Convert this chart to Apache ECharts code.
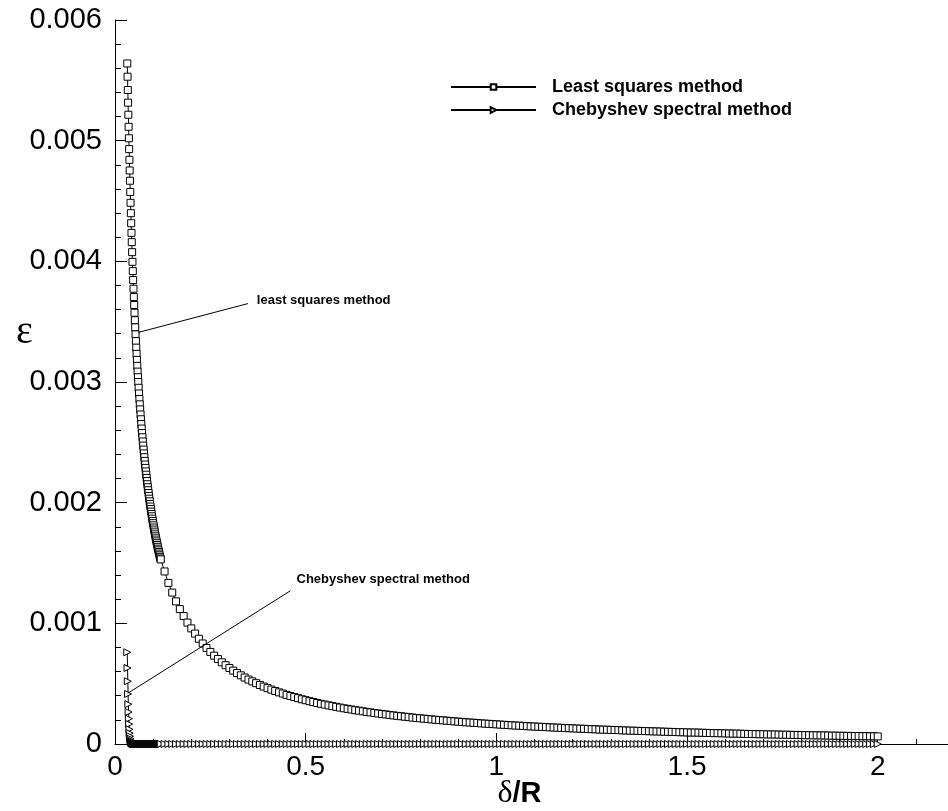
<!DOCTYPE html>
<html><head><meta charset="utf-8">
<script src="https://cdn.jsdelivr.net/npm/echarts@6/dist/echarts.min.js"></script>
<style>html,body{margin:0;padding:0;background:#fff}#c{width:948px;height:811px}</style>
</head><body><div id="c"></div>
<script>
// δ/R grid shared by both series
const deltaR = [
0.0322,0.0329,0.0336,0.0343,0.0350,0.0357,0.0364,0.0371,0.0378,0.0385,0.0392,0.0400,
0.0408,0.0416,0.0424,0.0432,0.0440,0.0449,0.0458,0.0467,0.0476,0.0485,0.0494,0.0503,0.0512,0.0521,0.0530,0.0539,0.0548,0.0557,0.0566,0.0575,0.0584,0.0593,0.0602,
0.061,0.062,0.063,0.064,0.065,0.066,0.067,0.068,0.069,0.070,
0.071,0.072,0.073,0.074,0.075,0.076,0.077,0.078,0.079,0.080,
0.081,0.082,0.083,0.084,0.085,0.086,0.087,0.088,0.089,0.090,
0.091,0.092,0.093,0.094,0.095,0.096,0.097,0.098,0.099,0.100,
0.101,0.102,0.103,0.104,0.105,0.106,0.107,0.108,0.109,0.110,
0.111,0.112,0.113,0.114,0.115,0.116,0.117,0.118,0.119,
0.12,0.13,0.14,0.15,0.16,0.17,0.18,0.19,
0.20,0.21,0.22,0.23,0.24,0.25,0.26,0.27,0.28,0.29,
0.30,0.31,0.32,0.33,0.34,0.35,0.36,0.37,0.38,0.39,
0.40,0.41,0.42,0.43,0.44,0.45,0.46,0.47,0.48,0.49,
0.50,0.51,0.52,0.53,0.54,0.55,0.56,0.57,0.58,0.59,
0.60,0.61,0.62,0.63,0.64,0.65,0.66,0.67,0.68,0.69,
0.70,0.71,0.72,0.73,0.74,0.75,0.76,0.77,0.78,0.79,
0.80,0.81,0.82,0.83,0.84,0.85,0.86,0.87,0.88,0.89,
0.90,0.91,0.92,0.93,0.94,0.95,0.96,0.97,0.98,0.99,
1.00,1.01,1.02,1.03,1.04,1.05,1.06,1.07,1.08,1.09,
1.10,1.11,1.12,1.13,1.14,1.15,1.16,1.17,1.18,1.19,
1.20,1.21,1.22,1.23,1.24,1.25,1.26,1.27,1.28,1.29,
1.30,1.31,1.32,1.33,1.34,1.35,1.36,1.37,1.38,1.39,
1.40,1.41,1.42,1.43,1.44,1.45,1.46,1.47,1.48,1.49,
1.50,1.51,1.52,1.53,1.54,1.55,1.56,1.57,1.58,1.59,
1.60,1.61,1.62,1.63,1.64,1.65,1.66,1.67,1.68,1.69,
1.70,1.71,1.72,1.73,1.74,1.75,1.76,1.77,1.78,1.79,
1.80,1.81,1.82,1.83,1.84,1.85,1.86,1.87,1.88,1.89,
1.90,1.91,1.92,1.93,1.94,1.95,1.96,1.97,1.98,1.99,
2.00
];

// ε, least squares method
const leastSquares = [
5640e-6,5530e-6,5420e-6,5315e-6,5215e-6,5115e-6,5020e-6,4930e-6,4841e-6,4753e-6,4668e-6,4575e-6,
4485e-6,4399e-6,4316e-6,4236e-6,4159e-6,4076e-6,3996e-6,3919e-6,3845e-6,3773e-6,3704e-6,3638e-6,3574e-6,3512e-6,3453e-6,3395e-6,3339e-6,3285e-6,3233e-6,3183e-6,3134e-6,3086e-6,3040e-6,
3000e-6,2952e-6,2905e-6,2859e-6,2815e-6,2773e-6,2731e-6,2691e-6,2652e-6,2614e-6,
2577e-6,2542e-6,2507e-6,2473e-6,2440e-6,2408e-6,2377e-6,2346e-6,2316e-6,2288e-6,
2259e-6,2232e-6,2205e-6,2179e-6,2153e-6,2128e-6,2103e-6,2080e-6,2056e-6,2033e-6,
2011e-6,1989e-6,1968e-6,1947e-6,1926e-6,1906e-6,1887e-6,1867e-6,1848e-6,1830e-6,
1812e-6,1794e-6,1777e-6,1760e-6,1743e-6,1726e-6,1710e-6,1694e-6,1679e-6,1664e-6,
1649e-6,1634e-6,1619e-6,1605e-6,1591e-6,1578e-6,1564e-6,1551e-6,1538e-6,
1530e-6,1430e-6,1335e-6,1255e-6,1182e-6,1118e-6,1060e-6,1006e-6,
958e-6,915e-6,872e-6,833e-6,796e-6,763e-6,732e-6,704e-6,677e-6,653e-6,
630e-6,608e-6,588e-6,569e-6,551e-6,534e-6,519e-6,504e-6,489e-6,476e-6,
463e-6,451e-6,439e-6,428e-6,418e-6,407e-6,398e-6,389e-6,380e-6,371e-6,
363e-6,355e-6,348e-6,340e-6,333e-6,327e-6,320e-6,314e-6,308e-6,302e-6,
296e-6,291e-6,286e-6,280e-6,276e-6,271e-6,266e-6,262e-6,257e-6,253e-6,
249e-6,245e-6,241e-6,237e-6,233e-6,230e-6,226e-6,223e-6,219e-6,216e-6,
213e-6,210e-6,207e-6,204e-6,201e-6,198e-6,196e-6,193e-6,190e-6,188e-6,
185e-6,183e-6,180e-6,178e-6,176e-6,174e-6,171e-6,169e-6,167e-6,165e-6,
163e-6,161e-6,159e-6,157e-6,155e-6,153e-6,152e-6,150e-6,148e-6,146e-6,
145e-6,143e-6,142e-6,140e-6,138e-6,137e-6,135e-6,134e-6,132e-6,131e-6,
130e-6,128e-6,127e-6,126e-6,124e-6,123e-6,122e-6,120e-6,119e-6,118e-6,
117e-6,116e-6,115e-6,113e-6,112e-6,111e-6,110e-6,109e-6,108e-6,107e-6,
106e-6,105e-6,104e-6,103e-6,102e-6,101e-6,100e-6,99e-6,98e-6,97e-6,
96e-6,95e-6,95e-6,94e-6,93e-6,92e-6,91e-6,90e-6,90e-6,89e-6,
88e-6,87e-6,86e-6,86e-6,85e-6,84e-6,83e-6,83e-6,82e-6,81e-6,
81e-6,80e-6,79e-6,79e-6,78e-6,77e-6,77e-6,76e-6,75e-6,75e-6,
74e-6,73e-6,73e-6,72e-6,72e-6,71e-6,71e-6,70e-6,69e-6,69e-6,
68e-6,68e-6,67e-6,67e-6,66e-6,66e-6,65e-6,65e-6,64e-6,64e-6,
63e-6
];

// ε, Chebyshev spectral method
const chebyshev = [
760e-6,630e-6,520e-6,415e-6,330e-6,265e-6,210e-6,165e-6,122e-6,90e-6,65e-6,45e-6,
32e-6,22e-6,15e-6,10e-6,7e-6,5e-6,3e-6,2e-6,1e-6,1e-6,0,0,0,0,0,0,0,0,0,0,0,0,0,
0,0,0,0,0,0,0,0,0,0,
0,0,0,0,0,0,0,0,0,0,
0,0,0,0,0,0,0,0,0,0,
0,0,0,0,0,0,0,0,0,0,
0,0,0,0,0,0,0,0,0,0,
0,0,0,0,0,0,0,0,0,
0,0,0,0,0,0,0,0,
0,0,0,0,0,0,0,0,0,0,
0,0,0,0,0,0,0,0,0,0,
0,0,0,0,0,0,0,0,0,0,
0,0,0,0,0,0,0,0,0,0,
0,0,0,0,0,0,0,0,0,0,
0,0,0,0,0,0,0,0,0,0,
0,0,0,0,0,0,0,0,0,0,
0,0,0,0,0,0,0,0,0,0,
0,0,0,0,0,0,0,0,0,0,
0,0,0,0,0,0,0,0,0,0,
0,0,0,0,0,0,0,0,0,0,
0,0,0,0,0,0,0,0,0,0,
0,0,0,0,0,0,0,0,0,0,
0,0,0,0,0,0,0,0,0,0,
0,0,0,0,0,0,0,0,0,0,
0,0,0,0,0,0,0,0,0,0,
0,0,0,0,0,0,0,0,0,0,
0,0,0,0,0,0,0,0,0,0,
0
];

const seriesNames = ['Least squares method', 'Chebyshev spectral method'];
const yLabel = '\u03b5';

// annotations: text, curve point, line end, text anchor (data units)
const notes = [
  {text: 'least squares method', from: [0.0603, 0.00341], to: [0.3486, 0.00365], at: [0.372, 0.00368]},
  {text: 'Chebyshev spectral method', from: [0.0333, 0.00042], to: [0.46, 0.00127], at: [0.476, 0.00136]}
];

const FONT = '"Liberation Sans", Arial, sans-serif';
const chart = echarts.init(document.getElementById('c'), null, {renderer: 'canvas'});
const pairs = arr => deltaR.map((x, i) => [x, arr[i]]);

chart.setOption({
  animation: false,
  backgroundColor: '#fff',
  grid: {left: 115, top: 20, width: 839, height: 724, containLabel: false, outerBoundsMode: 'none'},
  legend: {
    orient: 'vertical', left: 445, top: 73, itemWidth: 85, itemHeight: 7, itemGap: 5,
    textStyle: {fontFamily: FONT, fontWeight: 'bold', fontSize: 18, color: '#000', padding: [0, 0, 0, 11]},
    data: seriesNames
  },
  xAxis: {
    type: 'value', min: 0, max: 2.2, interval: 0.5,
    axisLine: {lineStyle: {color: '#000', width: 1}},
    axisTick: {inside: true, length: 11, lineStyle: {color: '#000'}},
    minorTick: {show: true, splitNumber: 5, length: 5, lineStyle: {color: '#000'}},
    splitLine: {show: false},
    axisLabel: {fontFamily: FONT, fontSize: 28, color: '#000', margin: 9, showMaxLabel: false},
    name: '{d|\u03b4}{r|/R}', nameLocation: 'middle', nameGap: 35, nameMoveOverlap: false,
    nameTextStyle: {padding: [0, 30, 0, 0], rich: {
      d: {fontFamily: '"Liberation Serif", serif', fontSize: 32, color: '#000', lineHeight: 30},
      r: {fontFamily: FONT, fontSize: 29, fontWeight: 'bold', color: '#000', lineHeight: 30}
    }}
  },
  yAxis: {
    type: 'value', min: 0, max: 0.006, interval: 0.001,
    axisLine: {lineStyle: {color: '#000', width: 1}},
    axisTick: {inside: true, length: 12, lineStyle: {color: '#000'}},
    minorTick: {show: true, splitNumber: 5, length: 6, lineStyle: {color: '#000'}},
    splitLine: {show: false},
    axisLabel: {fontFamily: FONT, fontSize: 29, color: '#000', margin: 13}
  },
  series: [
    {
      name: seriesNames[0], type: 'line', data: pairs(leastSquares),
      symbol: 'rect', symbolSize: 7, showAllSymbol: true, z: 3,
      itemStyle: {color: '#fff', borderColor: '#000', borderWidth: 1},
      lineStyle: {color: '#000', width: 1}
    },
    {
      name: seriesNames[1], type: 'line', data: pairs(chebyshev),
      symbol: 'path://M0,0L10,5L0,10Z', symbolSize: 7, symbolKeepAspect: true, showAllSymbol: true, z: 2,
      itemStyle: {color: '#fff', borderColor: '#000', borderWidth: 1},
      lineStyle: {color: '#000', width: 1}
    }
  ]
});

const g = [];
notes.forEach(n => {
  const a = chart.convertToPixel({gridIndex: 0}, n.from);
  const b = chart.convertToPixel({gridIndex: 0}, n.to);
  const t = chart.convertToPixel({gridIndex: 0}, n.at);
  g.push({type: 'line', shape: {x1: a[0], y1: a[1], x2: b[0], y2: b[1]}, style: {stroke: '#000', lineWidth: 1}, z: 10});
  g.push({type: 'text', x: t[0], y: t[1], style: {text: n.text, font: 'bold 13px ' + FONT, fill: '#000', textAlign: 'left', textVerticalAlign: 'middle'}, z: 10});
});
g.push({type: 'text', left: 16, top: 312, style: {text: yLabel, font: '40px "Liberation Serif", serif', fill: '#000'}});
chart.setOption({graphic: g});
</script>
</body></html>
